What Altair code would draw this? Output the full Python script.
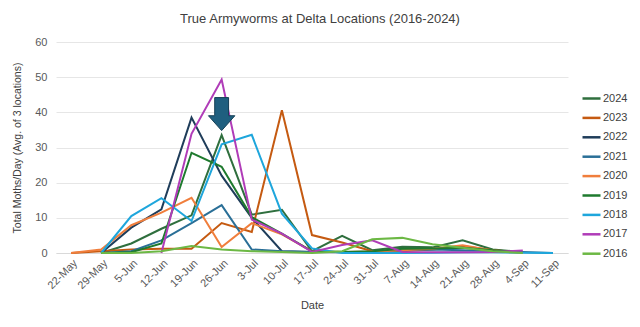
import altair as alt
import pandas as pd

dates = ["22-May", "29-May", "5-Jun", "12-Jun", "19-Jun", "26-Jun", "3-Jul", "10-Jul",
         "17-Jul", "24-Jul", "31-Jul", "7-Aug", "14-Aug", "21-Aug", "28-Aug", "4-Sep", "11-Sep"]

years = ["2024", "2023", "2022", "2021", "2020", "2019", "2018", "2017", "2016"]

y2024 = [None, 0, 2.7, 6.9, 10.7, 33.5, 10.9, 12.3, 0.5, 4.9, 0.8, 1.8, 1.6, 3.6, 1.0, 0.3, None]
y2023 = [0, 0.5, 1.0, 1.2, 1.2, 8.5, 6.0, 40.6, 5.1, 3.0, 0.5, 0.5, 1.0, 2.0, 0.8, 0.2, None]
y2022 = [None, 0, 7.2, 12.4, 38.5, 22.0, 10.0, 0.5, 0.3, None, None, None, None, None, None, None, None]
y2021 = [None, 0, 0.5, 3.6, 8.5, 13.6, 1.0, 0.5, 0.3, 0.2, 0.3, 0.8, 1.0, 0.8, 0.5, 0.3, 0]
y2020 = [0, 1.0, 7.9, 11.5, 15.7, 1.7, 8.5, 5.3, 0.5, 0.3, 0.4, 0.8, 1.2, 2.2, 0.7, 0.1, None]
y2019 = [None, 0, 0.2, 2.7, 28.5, 24.5, 10.2, 5.5, 0.5, 0.3, 0.5, 1.2, 1.3, 1.5, 0.8, 0.2, None]
y2018 = [None, 0, 10.5, 15.6, 9.1, 30.9, 33.6, 11.2, 1.3, 0, 0, 0, 0.1, 0.2, 0.2, 0.1, 0]
y2017 = [None, None, None, 0, 33.9, 49.3, 9.5, 5.5, 0.3, 2.3, 3.6, 0.3, 0.2, 0.2, 0.3, 0.7, None]
y2016 = [None, 0, 0, 0.5, 2.0, 1.0, 0.5, 0.3, 0, 0.5, 3.9, 4.3, 2.5, 1.5, 0.5, 0, None]

series = [y2024, y2023, y2022, y2021, y2020, y2019, y2018, y2017, y2016]
colors = ["#2f6f3e", "#c55a11", "#1f3d5a", "#2a6f97", "#f07e3c", "#1e7a2e", "#1ea6dc", "#b03cb8", "#6cb844"]

rows = []
for yr, vals in zip(years, series):
    for d, v in zip(dates, vals):
        if v is not None:
            rows.append({"Date": d, "Year": yr, "Moths": v})
df = pd.DataFrame(rows)

arrow_df = pd.DataFrame({"Date": ["26-Jun"], "Moths": [39.5]})

x_scale = alt.Scale(domain=dates, padding=0.5)
y_scale = alt.Scale(domain=[0, 60])

x_axis = alt.Axis(title="Date", labelAngle=-45, labelFontSize=11, labelColor="#595959",
                  titleFontSize=11, titleColor="#404040", titleFontWeight="normal",
                  domainColor="#d9d9d9", ticks=False, grid=False, labelPadding=4,
                  titlePadding=9, labelOverlap=False)
y_axis = alt.Axis(title="Total Moths/Day (Avg. of 3 locations)", values=[0, 10, 20, 30, 40, 50, 60],
                  labelFontSize=11, labelColor="#595959", titleFontSize=10.5,
                  titleColor="#404040", titleFontWeight="normal", domain=False, ticks=False,
                  gridColor="#e6e6e6", labelPadding=9, titlePadding=12, labelOverlap=False)

x_enc = alt.X("Date:N", sort=dates, scale=x_scale, axis=x_axis)
y_enc = alt.Y("Moths:Q", scale=y_scale, axis=y_axis)

lines = alt.Chart(df).mark_line(strokeWidth=2).encode(
    x=x_enc,
    y=y_enc,
    color=alt.Color("Year:N", sort=years, scale=alt.Scale(domain=years, range=colors),
                    legend=alt.Legend(title=None, orient="none", legendX=525, legendY=46,
                                      symbolType="stroke", symbolSize=324, symbolStrokeWidth=2.5,
                                      labelFontSize=11, labelColor="#404040", labelOffset=1,
                                      rowPadding=3.4)),
    detail="Year:N",
)

arrow = alt.Chart(arrow_df).mark_point(
    shape="M-0.42,-1 L0.42,-1 L0.42,0.1 L0.8,0.1 L0,1 L-0.8,0.1 L-0.42,0.1 Z",
    size=1089, filled=True, color="#1f5f7f", stroke="#153f55", strokeWidth=1, opacity=1
).encode(x=x_enc, y=y_enc)

chart = alt.layer(lines, arrow).properties(
    width=512, height=211,
    title=alt.TitleParams("True Armyworms at Delta Locations (2016-2024)", fontSize=13,
                          fontWeight="normal", color="#404040", offset=10, dx=8),
    autosize=alt.AutoSizeParams(type="none"),
    padding={"left": 48, "top": 34, "right": 64, "bottom": 60},
).configure(font="Liberation Sans").configure_view(stroke=None)

chart.save("out.html", embed_options={"renderer": "svg", "actions": False})
